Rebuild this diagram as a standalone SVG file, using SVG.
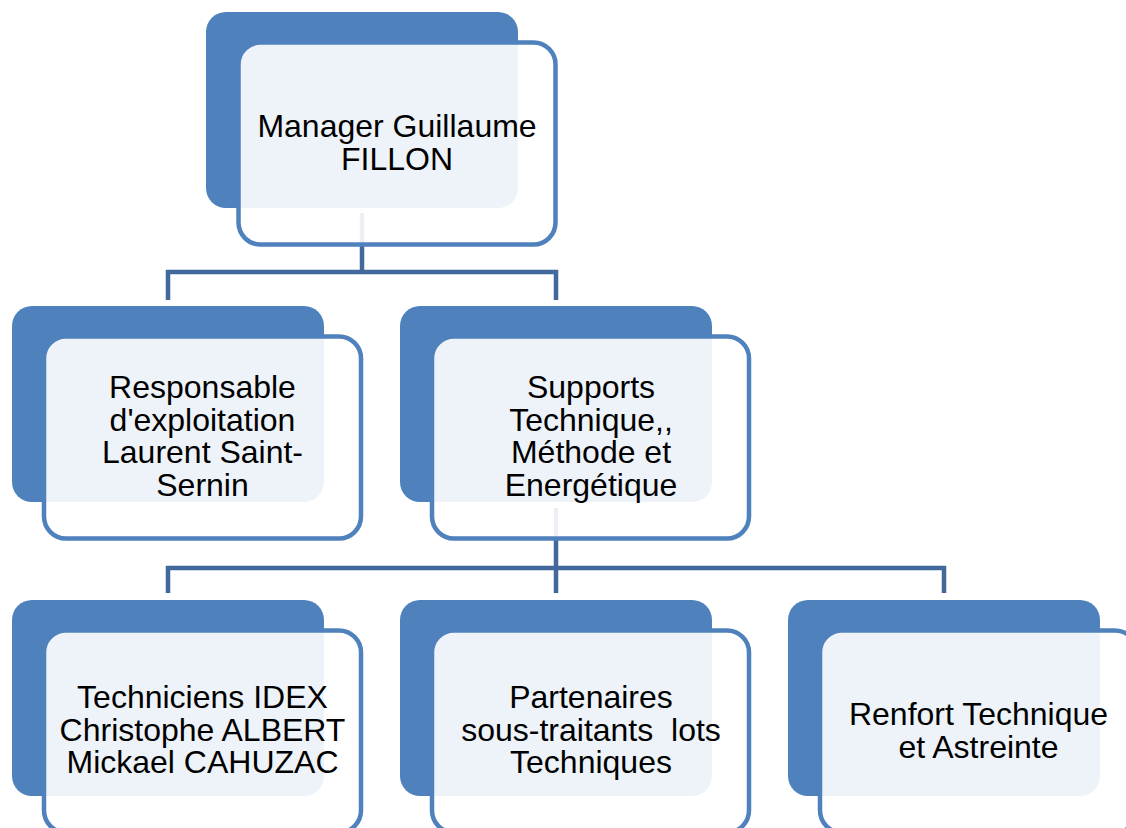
<svg xmlns="http://www.w3.org/2000/svg" width="1126" height="828" viewBox="0 0 1126 828">
<style>
.back{fill:#4f81bd}
.front{fill:#ffffff;fill-opacity:0.9;stroke:#4f81bd;stroke-width:4.5}
.conn{fill:none;stroke:#41699b;stroke-width:4.5}
text{font-family:"Liberation Sans",Arial,sans-serif;font-size:32px;fill:#000;text-anchor:middle;white-space:pre}
</style>
<rect width="1126" height="828" fill="#ffffff"/>
<g id="connectors">
<path class="conn" d="M362 213V272M168 300V272H556V300"/>
<path class="conn" d="M556 508V593M168 593V568H944V593"/>
</g>
<g id="node-manager">
<rect class="back" x="206" y="12" width="312" height="196" rx="20"/>
<rect class="front" x="238.5" y="42.5" width="317" height="202" rx="22"/>
<text x="397" y="137">Manager Guillaume</text>
<text x="397" y="169.5">FILLON</text>
</g>
<g id="node-responsable">
<rect class="back" x="12" y="306" width="312" height="196" rx="20"/>
<rect class="front" x="44" y="336.5" width="317" height="202" rx="22"/>
<text x="202.5" y="398">Responsable</text>
<text x="202.5" y="430.5">d'exploitation</text>
<text x="202.5" y="463">Laurent Saint-</text>
<text x="202.5" y="495.5">Sernin</text>
</g>
<g id="node-supports">
<rect class="back" x="400" y="306" width="312" height="196" rx="20"/>
<rect class="front" x="432" y="336.5" width="317" height="202" rx="22"/>
<text x="591" y="398">Supports</text>
<text x="591" y="430.5">Technique,,</text>
<text x="591" y="463">Méthode et</text>
<text x="591" y="495.5">Energétique</text>
</g>
<g id="node-techniciens">
<rect class="back" x="12" y="600" width="312" height="196" rx="20"/>
<rect class="front" x="44" y="630.5" width="317" height="202" rx="22"/>
<text x="202.5" y="708">Techniciens IDEX</text>
<text x="202.5" y="740.5">Christophe ALBERT</text>
<text x="202.5" y="773">Mickael CAHUZAC</text>
</g>
<g id="node-partenaires">
<rect class="back" x="400" y="600" width="312" height="196" rx="20"/>
<rect class="front" x="432" y="630.5" width="317" height="202" rx="22"/>
<text x="591" y="708">Partenaires</text>
<text x="591" y="740.5">sous-traitants  lots</text>
<text x="591" y="773">Techniques</text>
</g>
<g id="node-renfort">
<rect class="back" x="788" y="600" width="312" height="196" rx="20"/>
<rect class="front" x="820" y="630.5" width="317" height="202" rx="22"/>
<text x="978.5" y="725">Renfort Technique</text>
<text x="978.5" y="757.5">et Astreinte</text>
</g>
</svg>
